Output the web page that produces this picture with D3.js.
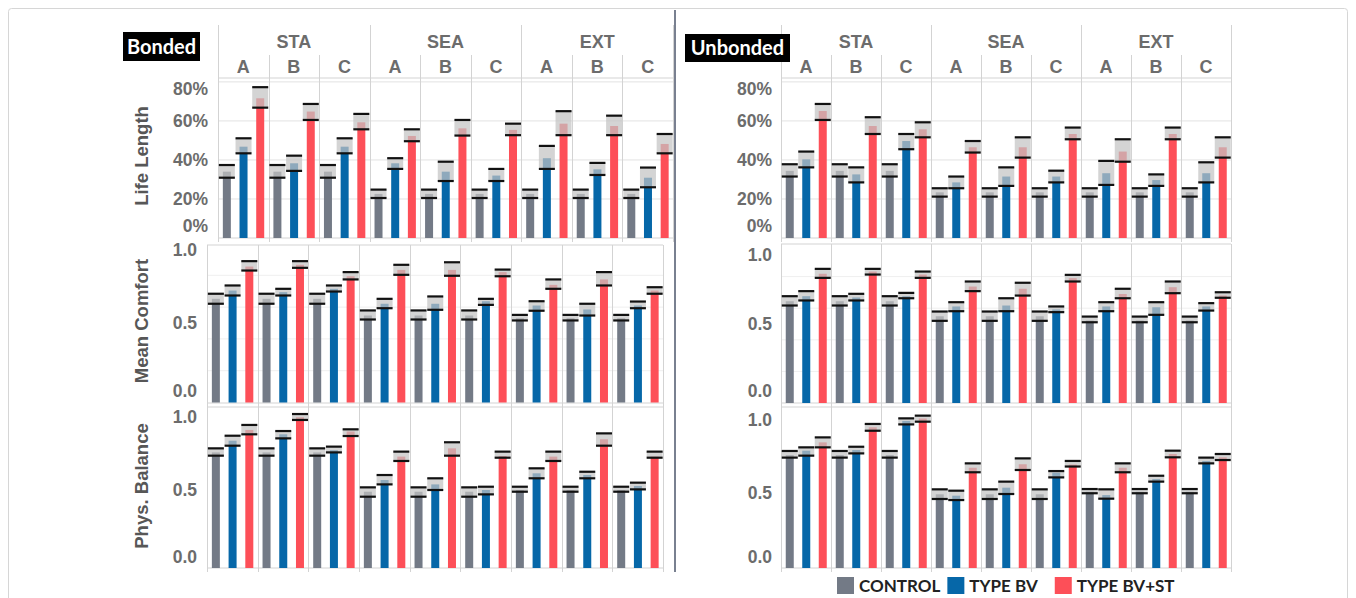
<!DOCTYPE html>
<html>
<head>
<meta charset="utf-8">
<script src="https://cdn.jsdelivr.net/npm/d3@7"></script>
<style>
  body { margin: 0; background: #fff; }
  svg { display: block; }
</style>
</head>
<body>
<svg id="chart" width="1356" height="598"></svg>
<script>
// ---- categories -----------------------------------------------------------
const groups = ["STA", "SEA", "EXT"];
const levels = ["A", "B", "C"];
const seriesNames = ["CONTROL", "TYPE BV", "TYPE BV+ST"];
const metricNames = ["Life Length", "Mean Comfort", "Phys. Balance"];
const panelNames = ["Bonded", "Unbonded"];
const lifeTicks = [0, 0.2, 0.4, 0.6, 0.8];
const scoreTicks = [0, 0.5, 1.0];

// ---- values: [mean, low, high], order STA A,B,C / SEA A,B,C / EXT A,B,C ----
const bondedLifeControl = [[0.34,0.309,0.374],[0.34,0.309,0.374],[0.34,0.309,0.374],[0.226,0.205,0.248],[0.226,0.205,0.248],[0.226,0.205,0.248],[0.226,0.205,0.248],[0.226,0.205,0.248],[0.226,0.205,0.248]];
const bondedLifeBV = [[0.468,0.434,0.511],[0.383,0.344,0.422],[0.468,0.434,0.511],[0.383,0.354,0.409],[0.34,0.292,0.391],[0.32,0.292,0.354],[0.409,0.354,0.472],[0.352,0.323,0.385],[0.309,0.26,0.361]];
const bondedLifeBVST = [[0.716,0.668,0.773],[0.648,0.605,0.687],[0.593,0.557,0.636],[0.523,0.496,0.557],[0.562,0.525,0.605],[0.554,0.527,0.586],[0.586,0.527,0.65],[0.574,0.527,0.627],[0.482,0.434,0.533]];

const bondedComfortControl = [[0.652,0.621,0.684],[0.652,0.621,0.684],[0.652,0.621,0.684],[0.547,0.522,0.579],[0.547,0.522,0.579],[0.547,0.522,0.579],[0.53,0.516,0.551],[0.53,0.516,0.551],[0.53,0.516,0.551]];
const bondedComfortBV = [[0.704,0.673,0.736],[0.694,0.673,0.715],[0.715,0.698,0.736],[0.621,0.593,0.652],[0.621,0.583,0.667],[0.637,0.614,0.652],[0.61,0.577,0.637],[0.585,0.547,0.621],[0.61,0.593,0.635]];
const bondedComfortBVST = [[0.855,0.83,0.889],[0.866,0.847,0.889],[0.794,0.774,0.82],[0.834,0.803,0.866],[0.834,0.797,0.882],[0.82,0.794,0.836],[0.74,0.715,0.774],[0.774,0.736,0.82],[0.704,0.684,0.725]];

const bondedBalanceControl = [[0.741,0.72,0.767],[0.741,0.72,0.767],[0.741,0.72,0.767],[0.489,0.457,0.517],[0.489,0.457,0.517],[0.489,0.457,0.517],[0.5,0.489,0.521],[0.5,0.489,0.521],[0.5,0.489,0.521]];
const bondedBalanceBV = [[0.816,0.784,0.848],[0.857,0.831,0.878],[0.755,0.741,0.778],[0.564,0.536,0.596],[0.536,0.5,0.575],[0.5,0.472,0.521],[0.607,0.575,0.639],[0.596,0.575,0.617],[0.526,0.504,0.547]];
const bondedBalanceBVST = [[0.885,0.857,0.917],[0.966,0.949,0.987],[0.875,0.846,0.889],[0.714,0.686,0.746],[0.767,0.72,0.806],[0.718,0.707,0.746],[0.714,0.686,0.746],[0.825,0.784,0.863],[0.714,0.707,0.746]];

const unbondedLifeControl = [[0.344,0.315,0.378],[0.344,0.315,0.378],[0.344,0.315,0.378],[0.234,0.212,0.255],[0.234,0.212,0.255],[0.234,0.212,0.255],[0.234,0.212,0.255],[0.234,0.212,0.255],[0.234,0.212,0.255]];
const unbondedLifeBV = [[0.403,0.362,0.443],[0.326,0.285,0.362],[0.497,0.455,0.533],[0.285,0.255,0.315],[0.315,0.267,0.362],[0.315,0.285,0.345],[0.332,0.272,0.395],[0.297,0.267,0.326],[0.332,0.285,0.388]];
const unbondedLifeBVST = [[0.651,0.605,0.687],[0.574,0.533,0.619],[0.557,0.516,0.593],[0.465,0.438,0.497],[0.465,0.412,0.516],[0.533,0.506,0.566],[0.443,0.391,0.506],[0.533,0.506,0.566],[0.465,0.412,0.516]];

const unbondedComfortControl = [[0.644,0.617,0.676],[0.644,0.617,0.676],[0.644,0.617,0.676],[0.549,0.52,0.579],[0.549,0.52,0.579],[0.549,0.52,0.579],[0.522,0.511,0.547],[0.522,0.511,0.547],[0.522,0.511,0.547]];
const unbondedComfortBV = [[0.676,0.649,0.708],[0.668,0.649,0.691],[0.676,0.663,0.697],[0.611,0.581,0.638],[0.617,0.581,0.663],[0.592,0.575,0.611],[0.611,0.581,0.638],[0.606,0.558,0.638],[0.611,0.585,0.632]];
const unbondedComfortBVST = [[0.818,0.792,0.849],[0.832,0.813,0.849],[0.813,0.792,0.832],[0.737,0.708,0.769],[0.723,0.68,0.761],[0.79,0.769,0.811],[0.69,0.663,0.723],[0.733,0.695,0.769],[0.68,0.666,0.701]];

const unbondedBalanceControl = [[0.748,0.731,0.775],[0.748,0.731,0.775],[0.748,0.731,0.775],[0.488,0.457,0.521],[0.488,0.457,0.521],[0.488,0.457,0.521],[0.505,0.495,0.523],[0.505,0.495,0.523],[0.505,0.495,0.523]];
const unbondedBalanceBV = [[0.777,0.744,0.799],[0.781,0.759,0.803],[0.974,0.951,0.991],[0.479,0.45,0.512],[0.532,0.49,0.572],[0.631,0.6,0.642],[0.483,0.459,0.521],[0.589,0.572,0.611],[0.709,0.693,0.731]];
const unbondedBalanceBVST = [[0.832,0.799,0.865],[0.932,0.909,0.954],[0.99,0.969,1.009],[0.664,0.634,0.693],[0.687,0.649,0.726],[0.685,0.672,0.709],[0.664,0.634,0.693],[0.755,0.733,0.777],[0.733,0.715,0.755]];

// ---- table assembled for drawing: panel -> metric -> series ----
const panelData = [
  [[bondedLifeControl, bondedLifeBV, bondedLifeBVST],
   [bondedComfortControl, bondedComfortBV, bondedComfortBVST],
   [bondedBalanceControl, bondedBalanceBV, bondedBalanceBVST]],
  [[unbondedLifeControl, unbondedLifeBV, unbondedLifeBVST],
   [unbondedComfortControl, unbondedComfortBV, unbondedComfortBVST],
   [unbondedBalanceControl, unbondedBalanceBV, unbondedBalanceBVST]]
];

// ---- styling / layout ----
const seriesColors = ["#737a86", "#0667a8", "#fd4f58"];
const textGray = "#6c6c6c";
const gridGray = "#d3d3d3";
const axisFont = "'Liberation Sans', Arial, sans-serif";
const labelFont = "Lato, 'Open Sans', sans-serif";

const conditions = groups.flatMap(g => levels.map(l => g + " " + l));

// horizontal extent of each row of facets, per panel
const panelLayout = [
  { rowsX: [[218, 673], [207, 663], [207, 663]], tickX: [208, 197, 197],
    box: { x: 123, y: 32, w: 77, h: 29 } },
  { rowsX: [[781, 1231], [781, 1231], [781, 1231]], tickX: [772, 772, 772],
    box: { x: 685, y: 34, w: 105, h: 28 } }
];
// vertical layout of each metric row, per panel: frame top/bottom, value range
const rowLayout = [
  [ { top: 78, bottom: 238, domain: [0, 0.82], range: [238, 78], ticks: lifeTicks, fmt: d3.format(".0%"), nudge: [-12, 7], grid: [0.2, 0.4, 0.6, 0.8] },
    { top: 245, bottom: 403, domain: [0, 1], range: [402.5, 243.5], ticks: scoreTicks, fmt: d3.format(".1f"), nudge: [-11.5, 6.5], grid: [0.2, 0.4, 0.6, 0.8] },
    { top: 407, bottom: 568, domain: [0, 1], range: [568, 412], ticks: scoreTicks, fmt: d3.format(".1f"), nudge: [-11, 5], grid: [] } ],
  [ { top: 78, bottom: 238, domain: [0, 0.82], range: [238, 78], ticks: lifeTicks, fmt: d3.format(".0%"), nudge: [-12, 7], grid: [0.2, 0.4, 0.6, 0.8] },
    { top: 244, bottom: 403, domain: [0, 1], range: [403, 245], ticks: scoreTicks, fmt: d3.format(".1f"), nudge: [-12, 10], grid: [0.2, 0.4, 0.6, 0.8] },
    { top: 407, bottom: 568, domain: [0, 1], range: [568, 417], ticks: scoreTicks, fmt: d3.format(".1f"), nudge: [-11, 3], grid: [] } ]
];

const svg = d3.select("#chart");
svg.append("rect").attr("width", 1356).attr("height", 598).attr("fill", "#fff");
// figure frame
svg.append("rect").attr("x", 8.5).attr("y", 8.5).attr("width", 1339).attr("height", 610)
  .attr("fill", "none").attr("stroke", "#d6d6d6").attr("rx", 3);

panelNames.forEach((panelName, p) => {
  const lay = panelLayout[p];
  const g = svg.append("g");

  rowLayout[p].forEach((row, r) => {
    const [x0, x1] = lay.rowsX[r];
    const x = d3.scaleBand().domain(conditions).range([x0, x1]).padding(0);
    const sub = d3.scalePoint().domain(seriesNames)
      .range([x.bandwidth() * 0.175, x.bandwidth() * 0.835]);
    const y = d3.scaleLinear().domain(row.domain).range(row.range);
    const barW = 8, capW = 16;

    const rg = g.append("g");

    // gridlines
    rg.selectAll("line.grid").data(row.grid).join("line")
      .attr("x1", x0).attr("x2", x1)
      .attr("y1", d => y(d)).attr("y2", d => y(d))
      .attr("stroke", r === 0 ? "#e2e2e2" : "#efefef").attr("stroke-width", 1);

    // facet frame
    rg.append("line").attr("x1", x0).attr("x2", x1).attr("y1", row.top).attr("y2", row.top)
      .attr("stroke", gridGray);
    rg.append("line").attr("x1", x0).attr("x2", x1).attr("y1", row.bottom).attr("y2", row.bottom)
      .attr("stroke", gridGray);
    const dividers = d3.range(conditions.length + 1).map(i => ({
      x: i === conditions.length ? x1 : x(conditions[i]),
      major: i % 3 === 0
    }));
    rg.selectAll("line.div").data(dividers).join("line")
      .attr("x1", d => Math.round(d.x) + 0.5).attr("x2", d => Math.round(d.x) + 0.5)
      .attr("y1", d => (r === 0 ? (d.major ? 25 : 55) : row.top))
      .attr("y2", row.bottom + 4)
      .attr("stroke", gridGray);

    // bars + error ranges
    const rowData = panelData[p][r];
    seriesNames.forEach((s, si) => {
      const vals = rowData[si].map((v, ci) => ({ c: conditions[ci], mean: v[0], lo: v[1], hi: v[2] }));
      const cx = d => x(d.c) + sub(s);
      rg.selectAll(null).data(vals).join("rect")
        .attr("x", d => cx(d) - barW / 2).attr("width", barW)
        .attr("y", d => y(d.mean)).attr("height", d => y(0) - y(d.mean))
        .attr("fill", seriesColors[si]);
      rg.selectAll(null).data(vals).join("rect")
        .attr("x", d => cx(d) - capW / 2).attr("width", capW)
        .attr("y", d => y(d.hi)).attr("height", d => y(d.lo) - y(d.hi))
        .attr("fill", "#c4c4c4").attr("fill-opacity", 0.72);
      ["lo", "hi"].forEach(k => {
        rg.selectAll(null).data(vals).join("line")
          .attr("x1", d => cx(d) - capW / 2).attr("x2", d => cx(d) + capW / 2)
          .attr("y1", d => y(d[k])).attr("y2", d => y(d[k]))
          .attr("stroke", "#111").attr("stroke-width", 2.2);
      });
    });

    // value axis
    const axis = d3.axisLeft(y).tickValues(row.ticks).tickFormat(row.fmt).tickSize(0).tickPadding(0);
    const ag = rg.append("g").attr("transform", `translate(${lay.tickX[r]},0)`).call(axis);
    ag.select(".domain").remove();
    ag.selectAll("text")
      .attr("font-family", axisFont).attr("font-weight", "bold").attr("font-size", 17.5)
      .attr("fill", textGray)
      .attr("transform", (d, i, n) => i === 0 ? `translate(0,${row.nudge[0]})`
        : i === n.length - 1 ? `translate(0,${row.nudge[1]})` : null);

    // metric title (left panel only)
    if (p === 0) {
      const midY = [156, 321, 486][r];
      rg.append("text")
        .attr("transform", `translate(148,${midY}) rotate(-90)`)
        .attr("text-anchor", "middle")
        .attr("font-family", axisFont).attr("font-weight", "bold").attr("font-size", 18.5)
        .attr("fill", "#575757")
        .text(metricNames[r]);
    }

    // column headers on top row
    if (r === 0) {
      const hg = rg.append("g").attr("font-family", axisFont).attr("font-weight", "bold")
        .attr("font-size", 18).attr("fill", textGray).attr("text-anchor", "middle");
      hg.selectAll("text.grp").data(groups).join("text")
        .attr("x", gName => (x(gName + " A") + x(gName + " C") + x.bandwidth()) / 2)
        .attr("y", 48).text(d => d);
      hg.selectAll("text.lvl").data(conditions).join("text")
        .attr("x", c => x(c) + x.bandwidth() / 2)
        .attr("y", 73).text(c => c.split(" ")[1]);
    }
  });

  // panel tag
  g.append("rect").attr("x", lay.box.x).attr("y", lay.box.y)
    .attr("width", lay.box.w).attr("height", lay.box.h).attr("fill", "#000");
  g.append("text").attr("x", lay.box.x + lay.box.w / 2).attr("y", lay.box.y + lay.box.h / 2 + 7)
    .attr("text-anchor", "middle").attr("fill", "#fff")
    .attr("font-family", labelFont).attr("font-weight", "bold").attr("font-size", 20)
    .text(panelName);
});

// separator between the two panels
svg.append("line").attr("x1", 675).attr("x2", 675).attr("y1", 10).attr("y2", 572)
  .attr("stroke", "#4c566b").attr("stroke-width", 1.5);

// legend, laid out left to right from the measured text widths
const legend = svg.append("g");
let lx = 837;
seriesNames.forEach((s, i) => {
  legend.append("rect").attr("x", lx).attr("y", 577).attr("width", 17).attr("height", 17)
    .attr("fill", seriesColors[i]);
  const t = legend.append("text").attr("x", lx + 22).attr("y", 592)
    .attr("font-family", labelFont).attr("font-weight", "bold").attr("font-size", 17)
    .attr("fill", "#222").text(s);
  lx += 22 + t.node().getComputedTextLength() + (i === 0 ? 7 : 17);
});
</script>
</body>
</html>
